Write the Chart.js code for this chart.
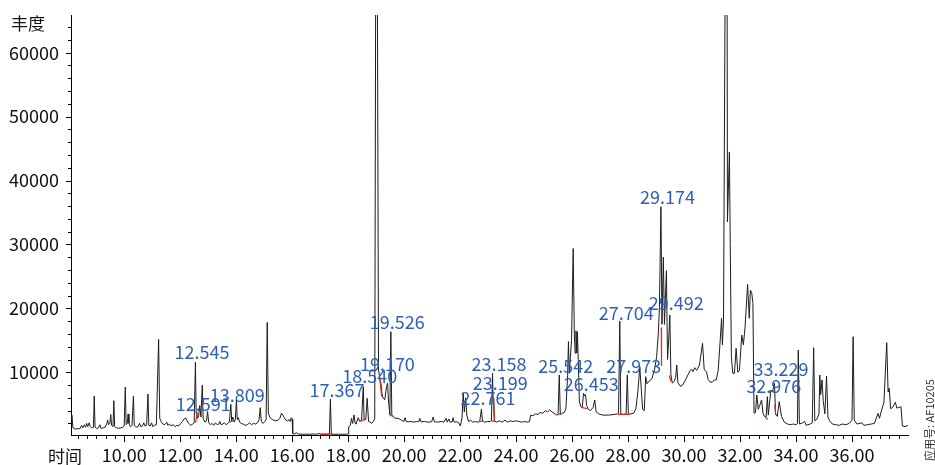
<!DOCTYPE html>
<html>
<head>
<meta charset="utf-8">
<script src="https://cdn.jsdelivr.net/npm/chart.js@4"></script>
<style>
  html, body { margin: 0; padding: 0; background: #fff; }
  #wrap { width: 935px; height: 465px; position: relative; }
  canvas { display: block; }
</style>
</head>
<body>
<div id="wrap"><canvas id="tic" width="935" height="465"></canvas></div>
<script>
// Total ion chromatogram: [retention time (min), abundance]
const trace = [
  [8.10,1900],[8.13,3300],[8.17,1300],[8.25,1100],[8.35,1200],[8.42,1150],[8.48,1700],[8.52,1300],
  [8.58,1800],[8.62,1400],[8.66,2000],[8.70,1500],[8.75,2100],[8.79,1500],[8.84,1300],[8.90,1400],
  [8.93,6300],[8.96,1400],[9.02,1200],[9.08,1300],[9.13,1800],[9.17,1250],[9.25,1300],[9.32,1400],
  [9.38,2000],[9.41,2550],[9.44,1800],[9.49,2000],[9.52,3400],[9.55,1700],[9.60,1500],[9.63,5560],
  [9.66,1500],[9.72,1300],[9.80,1250],[9.88,1300],[9.95,1400],[10.00,1600],[10.04,7700],[10.07,1800],
  [10.11,2000],[10.14,3480],[10.17,2000],[10.22,1500],[10.28,1700],[10.33,6300],[10.36,1700],[10.42,1400],
  [10.50,1500],[10.55,2000],[10.59,1500],[10.65,1600],[10.70,2100],[10.74,1600],[10.80,1700],[10.85,6600],
  [10.88,1700],[10.93,1600],[10.98,2100],[11.02,1500],[11.08,1700],[11.15,1800],[11.23,15150],[11.27,2800],
  [11.32,2300],[11.38,1900],[11.45,1800],[11.52,2200],[11.56,1700],[11.62,1900],[11.68,1600],[11.75,1800],
  [11.82,1500],[11.88,1700],[11.95,1600],[12.02,2000],[12.08,2300],[12.14,2700],[12.19,2850],[12.24,2500],
  [12.30,2000],[12.38,1700],[12.45,1900],[12.50,2100],[12.545,11560],[12.57,3600],[12.591,3700],[12.62,2800],
  [12.66,3200],[12.70,4800],[12.74,3000],[12.79,7970],[12.82,2800],[12.88,2200],[12.94,2400],[12.98,3850],
  [13.02,2100],[13.08,1800],[13.14,2000],[13.20,1700],[13.26,2100],[13.32,1800],[13.38,1900],[13.42,2300],
  [13.46,1800],[13.52,1900],[13.58,2100],[13.64,1800],[13.70,2000],[13.76,2300],[13.809,5000],[13.84,2400],
  [13.88,3000],[13.93,2200],[13.97,2600],[14.01,5670],[14.04,2600],[14.08,2900],[14.12,2200],[14.18,2000],
  [14.25,1900],[14.32,1700],[14.40,1800],[14.48,2100],[14.55,1800],[14.62,2000],[14.70,1900],[14.78,2200],
  [14.82,2600],[14.86,4470],[14.90,2300],[14.96,2000],[15.02,2300],[15.07,2600],[15.11,17800],[15.15,3600],
  [15.20,3000],[15.26,2700],[15.34,2500],[15.42,2400],[15.50,2500],[15.56,2800],[15.62,3600],[15.67,3300],
  [15.72,2900],[15.78,2500],[15.84,2400],[15.89,2600],[15.93,2300],[15.97,2900],[16.00,2700],[16.02,400],
  [16.06,300],[16.15,550],[16.22,350],[16.35,300],[16.50,320],[16.62,300],[16.75,350],[16.85,300],
  [16.95,420],[17.02,300],[17.12,320],[17.25,300],[17.33,320],[17.367,5780],[17.40,350],[17.50,300],
  [17.65,320],[17.80,300],[17.95,320],[18.00,350],[18.02,1500],[18.08,1700],[18.12,2800],[18.16,2000],
  [18.21,3330],[18.25,2000],[18.28,1900],[18.36,2900],[18.42,2300],[18.48,2500],[18.54,7750],[18.57,2600],
  [18.63,2600],[18.68,5940],[18.73,2300],[18.78,2200],[18.84,2000],[18.90,2300],[18.95,2700],[18.995,92000],
  [19.03,92000],[19.085,10500],[19.13,9000],[19.17,8300],[19.21,6600],[19.25,5940],[19.31,5700],[19.37,7750],
  [19.41,8280],[19.44,5670],[19.49,3330],[19.526,16350],[19.56,3300],[19.67,2800],[19.79,2800],[19.91,2500],
  [19.99,2300],[20.03,2900],[20.07,2300],[20.15,2250],[20.25,2300],[20.35,2200],[20.45,2300],[20.52,2250],
  [20.56,2800],[20.60,2250],[20.72,2300],[20.85,2200],[20.98,2250],[21.04,3000],[21.08,2250],[21.20,2200],
  [21.32,2300],[21.42,2200],[21.50,2800],[21.54,2200],[21.60,2700],[21.64,2200],[21.72,2250],[21.75,2900],
  [21.79,2200],[21.88,2250],[21.95,2100],[22.01,1600],[22.07,3000],[22.11,6800],[22.15,3800],[22.20,6000],
  [22.24,3300],[22.30,2300],[22.38,2500],[22.45,2200],[22.55,2300],[22.65,2200],[22.70,2300],[22.761,4210],
  [22.80,2400],[22.88,2200],[22.98,2300],[23.08,2300],[23.12,2500],[23.158,9840],[23.18,5000],[23.199,6000],
  [23.23,2400],[23.30,2200],[23.40,2400],[23.50,2200],[23.60,2500],[23.70,2200],[23.80,2400],[23.90,2300],
  [24.00,2400],[24.10,2300],[24.20,2200],[24.30,2300],[24.40,2200],[24.48,2300],[24.52,3300],[24.60,3200],
  [24.70,3500],[24.78,3400],[24.85,3700],[24.95,3600],[25.05,4000],[25.12,3800],[25.20,4100],[25.28,3800],
  [25.35,3600],[25.45,3300],[25.50,3400],[25.542,9580],[25.58,3400],[25.65,3600],[25.72,3700],[25.78,4300],
  [25.84,9500],[25.87,14800],[25.90,9840],[25.94,12440],[25.98,15000],[26.04,29370],[26.08,16000],[26.11,13000],
  [26.14,16500],[26.17,13000],[26.19,16350],[26.22,12000],[26.26,5500],[26.31,4600],[26.36,4400],[26.41,6720],
  [26.453,6300],[26.48,6500],[26.52,4800],[26.58,4200],[26.66,4000],[26.75,4500],[26.81,5670],[26.86,3800],
  [26.95,3500],[27.10,3300],[27.30,3300],[27.50,3400],[27.62,3500],[27.66,3600],[27.704,18000],[27.74,3500],
  [27.85,3400],[27.93,3500],[27.973,9580],[28.01,3400],[28.10,3500],[28.20,3600],[28.28,4300],[28.35,7000],
  [28.42,10780],[28.47,7500],[28.52,4200],[28.58,4000],[28.63,9310],[28.68,8200],[28.75,8600],[28.85,9000],
  [28.95,10500],[29.02,12440],[29.08,16000],[29.12,20000],[29.174,35900],[29.21,17500],[29.26,28000],[29.30,17500],
  [29.37,25900],[29.41,12000],[29.45,15000],[29.492,18950],[29.53,9600],[29.58,8300],[29.65,8600],[29.70,9200],
  [29.74,11140],[29.78,8400],[29.87,7800],[29.95,8000],[30.05,8800],[30.14,9600],[30.22,10300],[30.27,10470],
  [30.32,10100],[30.38,10720],[30.45,10300],[30.55,11140],[30.66,14530],[30.72,10400],[30.80,10100],[30.86,8900],
  [30.92,8530],[31.00,8400],[31.08,8800],[31.15,8800],[31.22,10300],[31.28,14270],[31.34,18440],[31.37,14300],
  [31.41,18200],[31.495,96000],[31.53,96000],[31.55,33530],[31.62,44470],[31.65,30000],[31.69,12440],[31.74,9840],
  [31.80,9840],[31.86,13750],[31.92,10000],[31.98,10300],[32.06,15830],[32.12,14300],[32.18,17120],[32.27,23750],
  [32.33,18440],[32.37,22860],[32.42,22340],[32.46,20780],[32.50,3590],[32.55,3700],[32.60,6450],[32.65,4200],
  [32.71,4890],[32.77,5670],[32.82,3600],[32.88,3060],[32.93,2900],[32.976,6190],[33.01,3300],[33.10,7230],
  [33.16,6900],[33.229,8280],[33.27,3500],[33.33,3100],[33.40,5410],[33.48,3100],[33.58,2200],[33.70,1900],
  [33.80,1800],[33.90,1900],[34.00,1800],[34.05,2000],[34.08,13480],[34.12,1900],[34.24,2100],[34.31,2300],
  [34.36,1700],[34.50,1900],[34.58,2100],[34.63,13850],[34.67,2400],[34.75,2700],[34.82,3500],[34.85,9580],
  [34.88,6500],[34.93,8800],[34.97,5600],[35.03,3500],[35.09,9420],[35.14,3000],[35.20,2400],[35.30,1900],
  [35.42,1800],[35.55,1700],[35.65,1900],[35.78,1800],[35.90,2000],[36.00,2500],[36.04,15560],[36.08,2500],
  [36.18,1900],[36.35,2100],[36.42,1700],[36.55,1800],[36.68,1900],[36.80,2000],[36.93,3580],[36.98,2800],
  [37.06,4100],[37.14,5300],[37.24,14630],[37.29,6900],[37.33,7500],[37.38,4300],[37.45,4500],[37.55,5310],
  [37.60,4400],[37.68,4500],[37.75,4600],[37.80,1600],[37.90,1500],[38.00,1700]
];

// Integration baselines of the annotated peaks: [t1, a1, t2, a2]
const integrationBaselines = [
  [12.55,2100,12.61,3700],[13.76,2200,13.88,2400],[17.00,320,17.45,330],[18.42,2300,18.58,2600],
  [19.12,9400,19.20,6200],[19.47,3400,19.60,3100],[22.70,2300,22.82,2350],[23.12,2400,23.24,2300],
  [23.19,6000,23.22,2400],[25.47,3400,25.62,3500],[26.33,4500,26.56,4300],[27.64,3400,28.06,3400],
  [29.185,17000,29.195,11000],[29.47,9500,29.53,8600],[32.93,2600,33.00,2800],[33.24,5000,33.27,3300]
];

// Annotated retention times and the abundance level each label sits at
const peakLabels = ['12.545','12.591','13.809','17.367','18.540','19.170','19.526','22.761','23.158',
  '23.199','25.542','26.453','27.704','27.973','29.174','29.492','33.229','32.976'];
const labelAbundance = [13170,5050,6450,7230,9420,11300,17860,5980,11300,
  8330,10980,8170,19250,10980,37390,20750,10520,7860];

// Axis ticks
const xLabelTimes = [10, 12, 14, 16, 18, 20, 22, 24, 26, 28, 30, 32, 34, 36];
const yLabelValues = [10000, 20000, 30000, 40000, 50000, 60000];
const xRange = [8.1, 38.0];
const yRange = [188, 65900];

const FONT = '"Noto Sans CJK SC", "Noto Sans", sans-serif';

const tracePoints = trace.map(p => ({ x: p[0], y: p[1] }));
const baselinePoints = [];
integrationBaselines.forEach(s => {
  baselinePoints.push({ x: s[0], y: s[1] }, { x: s[2], y: s[3] }, { x: s[2], y: null });
});

const near = (a, b) => Math.abs(a - b) < 1e-6;

// Outward tick marks: long for labelled ticks, short for the rest
const tickMarks = {
  id: 'tickMarks',
  afterDraw(chart) {
    const ctx = chart.ctx, xs = chart.scales.x, ys = chart.scales.y;
    ctx.save();
    ctx.strokeStyle = '#000';
    ctx.lineWidth = 1;
    ctx.beginPath();
    xs.ticks.forEach(t => {
      const px = Math.round(xs.getPixelForValue(t.value)) + 0.5;
      const major = xLabelTimes.some(v => near(v, t.value));
      ctx.moveTo(px, xs.top);
      ctx.lineTo(px, xs.top + (major ? 7 : 4));
    });
    ys.ticks.forEach(t => {
      const py = Math.round(ys.getPixelForValue(t.value)) + 0.5;
      const major = yLabelValues.some(v => near(v, t.value));
      ctx.moveTo(ys.right, py);
      ctx.lineTo(ys.right - (major ? 5 : 3), py);
    });
    ctx.stroke();
    ctx.restore();
  }
};

// Axis captions, peak annotations and the side note
const annotations = {
  id: 'annotations',
  afterDraw(chart) {
    const ctx = chart.ctx, xs = chart.scales.x, ys = chart.scales.y;
    ctx.save();
    ctx.font = '17px ' + FONT;
    ctx.fillStyle = '#111';
    ctx.textAlign = 'left';
    ctx.textBaseline = 'middle';
    ctx.fillText('丰度', 11, 24);
    ctx.fillText('时间', 48, 457);

    ctx.font = '18px ' + FONT;
    ctx.fillStyle = '#2c5fb5';
    ctx.textAlign = 'center';
    peakLabels.forEach((lab, i) => {
      const px = xs.getPixelForValue(parseFloat(lab)) + 6.5;
      const py = ys.getPixelForValue(labelAbundance[i]);
      ctx.fillText(lab, px, py);
    });

    ctx.translate(929.5, 420);
    ctx.rotate(-Math.PI / 2);
    ctx.font = '11px ' + FONT;
    ctx.fillStyle = '#333';
    ctx.fillText('应用号: AF10205', 0, 0);
    ctx.restore();
  }
};

new Chart(document.getElementById('tic'), {
  type: 'line',
  data: {
    datasets: [
      { data: tracePoints, borderColor: '#1c1c1c', borderWidth: 1, pointRadius: 0, tension: 0, order: 2 },
      { data: baselinePoints, borderColor: '#e8281e', borderWidth: 1.2, pointRadius: 0, tension: 0, spanGaps: false, order: 1 }
    ]
  },
  options: {
    responsive: false,
    devicePixelRatio: 1,
    animation: false,
    events: [],
    layout: { padding: { left: 0, top: 15, right: 27, bottom: 0 } },
    plugins: { legend: { display: false }, tooltip: { enabled: false } },
    scales: {
      x: {
        type: 'linear',
        min: xRange[0], max: xRange[1],
        afterFit: s => { s.height = 30; s.paddingLeft = 0; s.paddingRight = 0; },
        afterBuildTicks: s => {
          const t = [];
          for (let k = -5; k <= 84; k++) {
            const v = 10 + k / 3;
            if (v > xRange[0] && v < xRange[1]) t.push({ value: v });
          }
          s.ticks = t;
        },
        grid: { display: false, drawTicks: false },
        border: { display: true, color: '#000', width: 1 },
        ticks: {
          autoSkip: false, maxRotation: 0, minRotation: 0, padding: 9,
          color: '#111', font: { family: FONT, size: 18 },
          callback: v => xLabelTimes.some(x => near(x, v)) ? Math.round(v).toFixed(2) : ''
        }
      },
      y: {
        type: 'linear',
        min: yRange[0], max: yRange[1],
        afterFit: s => { s.width = 71; s.paddingTop = 0; s.paddingBottom = 0; },
        afterBuildTicks: s => {
          const t = [];
          for (let v = 2000; v <= 64000; v += 2000) t.push({ value: v });
          s.ticks = t;
        },
        grid: { display: false, drawTicks: false },
        border: { display: true, color: '#000', width: 1 },
        ticks: {
          autoSkip: false, padding: 12,
          color: '#111', font: { family: FONT, size: 18 },
          callback: v => yLabelValues.some(y => near(y, v)) ? String(v) : ''
        }
      }
    }
  },
  plugins: [tickMarks, annotations]
});
</script>
</body>
</html>
